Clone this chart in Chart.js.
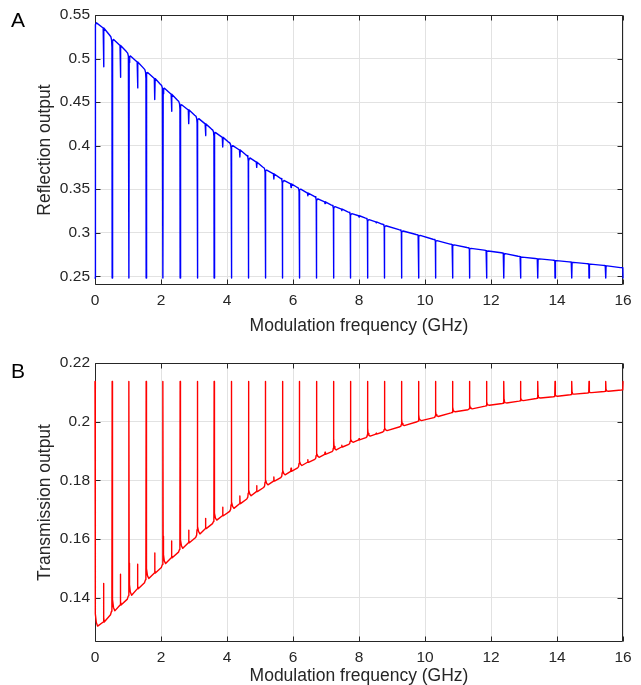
<!DOCTYPE html>
<html><head><meta charset="utf-8">
<script src="https://cdn.jsdelivr.net/npm/chart.js@4.4.1/dist/chart.umd.min.js"></script>
<style>
html,body{margin:0;padding:0;background:#fff;}
#wrap{position:relative;width:641px;height:685px;overflow:hidden;font-family:"Liberation Sans",Arial,sans-serif;}
.cv{position:absolute;left:0;}
.lab{position:absolute;font-size:21px;line-height:21px;color:#000;font-family:"Liberation Sans",Arial,sans-serif;}
</style></head><body>
<div id="wrap">
 <div class="cv" style="top:0;width:641px;height:340px"><canvas id="c1" width="641" height="340"></canvas></div>
 <div class="cv" style="top:340px;width:641px;height:345px"><canvas id="c2" width="641" height="345"></canvas></div>
 <div class="lab" style="left:11px;top:9px">A</div>
 <div class="lab" style="left:11px;top:360px">B</div>
</div>
<script>
// ---------- tick labels ----------
const freqTicks  = [0, 2, 4, 6, 8, 10, 12, 14, 16];
const reflTicks  = [0.25, 0.3, 0.35, 0.4, 0.45, 0.5, 0.55];
const transTicks = [0.14, 0.16, 0.18, 0.2, 0.22];

// ---------- resonance positions (GHz) ----------
const resonanceFreq = [0, 0.52, 1.03, 1.55, 2.06, 2.58, 3.10, 3.61, 4.13, 4.65, 5.16, 5.68, 6.19, 6.71, 7.23, 7.74,
  8.26, 8.77, 9.29, 9.81, 10.32, 10.84, 11.35, 11.87, 12.39, 12.90, 13.42, 13.94, 14.45, 14.97, 15.48, 16.0];
const halfFreq = [0.26, 0.77, 1.29, 1.81, 2.32, 2.84, 3.35, 3.87, 4.39, 4.90, 5.42, 5.94, 6.45, 6.97, 7.48, 8.00, 8.52];

// ---------- reflection (panel A) ----------
const reflFloor = 0.248;
const reflAfter = [0.541, 0.522, 0.503, 0.484, 0.466, 0.447, 0.431, 0.415, 0.400, 0.386, 0.372, 0.360, 0.350, 0.339, 0.330, 0.322,
  0.315, 0.308, 0.302, 0.297, 0.291, 0.286, 0.282, 0.279, 0.276, 0.272, 0.270, 0.268, 0.266, 0.264, 0.262];
const reflBefore = [0.527, 0.508, 0.489, 0.4705, 0.452, 0.435, 0.419, 0.404, 0.3895, 0.3755, 0.363, 0.3525, 0.342, 0.332, 0.324, 0.317,
  0.310, 0.3035, 0.298, 0.2925, 0.287, 0.283, 0.280, 0.277, 0.273, 0.2705, 0.2685, 0.2665, 0.2645, 0.2625, 0.260];
const reflHalfLevel = [0.535, 0.515, 0.496, 0.477, 0.459, 0.441, 0.425, 0.4095, 0.395, 0.381, 0.3675, 0.356, 0.3455, 0.3355, 0.327, 0.3195, 0.3125];
const reflHalfDip   = [0.4905, 0.4785, 0.4663, 0.4529, 0.4394, 0.4253, 0.4115, 0.3985, 0.387, 0.375, 0.3617, 0.352, 0.3425, 0.3335, 0.3255, 0.318, 0.3115];

// ---------- transmission (panel B) ----------
const transPeak = 0.2137;
const transAfter = [0.1304, 0.1356, 0.1409, 0.1466, 0.1517, 0.1569, 0.1618, 0.1665, 0.1705, 0.1748, 0.1785, 0.1819, 0.1851, 0.1879, 0.1904, 0.1930,
  0.1951, 0.1970, 0.1987, 0.2004, 0.2018, 0.2034, 0.2044, 0.2056, 0.2064, 0.2072, 0.2081, 0.2087, 0.2094, 0.2099, 0.2104];
const transBefore = [0.1343, 0.1396, 0.1452, 0.1504, 0.1556, 0.1606, 0.1653, 0.1695, 0.1737, 0.1776, 0.1810, 0.1843, 0.1872, 0.1898, 0.1923, 0.1946,
  0.1965, 0.1983, 0.2000, 0.2014, 0.2030, 0.2041, 0.2053, 0.2062, 0.2070, 0.2079, 0.2085, 0.2092, 0.2098, 0.2103, 0.2108];
const transHalfLevel = [0.1318, 0.1376, 0.1431, 0.1485, 0.1537, 0.1588, 0.1636, 0.1680, 0.1721, 0.1762, 0.1798, 0.1831, 0.1862, 0.1889, 0.1914, 0.1938, 0.1958];
const transHalfTop   = [0.1449, 0.1481, 0.1515, 0.1553, 0.1594, 0.1631, 0.1671, 0.1709, 0.1747, 0.1782, 0.1812, 0.1842, 0.1871, 0.1896, 0.1920, 0.1942, 0.1961];

// ---------- build point tables from the read values ----------
// resonance line shape: fraction of the local depth kept at small offsets from the resonance
function buildRefl() {
  const p = [];
  for (let k = 0; k < reflAfter.length; k++) {
    const s = resonanceFreq[k], e = resonanceFreq[k + 1], a = reflAfter[k], b = reflBefore[k];
    const da = a - reflFloor, db = b - reflFloor;
    p.push({x: s, y: reflFloor});
    p.push({x: s + 0.006, y: a - 0.03 * da});
    p.push({x: s + 0.02, y: a - 0.007 * da});
    p.push({x: s + 0.045, y: a});
    if (k < halfFreq.length) {
      const h = halfFreq[k];
      p.push({x: h - 0.012, y: reflHalfLevel[k]});
      p.push({x: h, y: reflHalfDip[k]});
      p.push({x: h + 0.012, y: reflHalfLevel[k]});
    }
    p.push({x: e - 0.08, y: b});
    p.push({x: e - 0.04, y: b - 0.007 * db});
    p.push({x: e - 0.018, y: b - 0.02 * db});
    p.push({x: e - 0.006, y: b - 0.05 * db});
  }
  p.push({x: resonanceFreq[resonanceFreq.length - 1], y: reflFloor});
  return p;
}
function buildTrans() {
  const p = [];
  for (let k = 0; k < transAfter.length; k++) {
    const s = resonanceFreq[k], e = resonanceFreq[k + 1], a = transAfter[k], b = transBefore[k];
    const da = transPeak - a, db = transPeak - b;
    p.push({x: s, y: transPeak});
    p.push({x: s + 0.005, y: a + 0.15 * da});
    p.push({x: s + 0.015, y: a + 0.05 * da});
    p.push({x: s + 0.04, y: a + 0.015 * da});
    p.push({x: s + 0.08, y: a});
    if (k < halfFreq.length) {
      const h = halfFreq[k];
      p.push({x: h - 0.01, y: transHalfLevel[k]});
      p.push({x: h, y: transHalfTop[k]});
      p.push({x: h + 0.006, y: transHalfLevel[k] + 0.12 * (transHalfTop[k] - transHalfLevel[k])});
      p.push({x: h + 0.02, y: transHalfLevel[k]});
    }
    p.push({x: e - 0.05, y: b});
    p.push({x: e - 0.02, y: b + 0.015 * db});
    p.push({x: e - 0.008, y: b + 0.05 * db});
  }
  p.push({x: resonanceFreq[resonanceFreq.length - 1], y: transPeak});
  return p;
}

// ---------- styling helpers ----------
const AX = '#262626';
const FONT = '"Liberation Sans", Arial, sans-serif';
const fmt = v => String(+(+v).toFixed(2));

const boxPlugin = {
  id: 'box',
  beforeDatasetsDraw(chart) {
    const {ctx, chartArea: ca, scales: {x, y}} = chart;
    const L = Math.round(ca.left) + 0.5, R = Math.round(ca.right) - 0.5;
    const T = Math.round(ca.top) + 0.5, B = Math.round(ca.bottom) - 0.5;
    ctx.save();
    ctx.strokeStyle = AX; ctx.lineWidth = 1;
    ctx.beginPath();
    ctx.rect(L, T, R - L, B - T);
    const tl = 5;
    x.ticks.forEach(t => {
      const px = Math.round(x.getPixelForValue(t.value)) + 0.5;
      ctx.moveTo(px, B); ctx.lineTo(px, B - tl);
      ctx.moveTo(px, T); ctx.lineTo(px, T + tl);
    });
    y.ticks.forEach(t => {
      const py = Math.round(y.getPixelForValue(t.value)) + 0.5;
      ctx.moveTo(L, py); ctx.lineTo(L + tl, py);
      ctx.moveTo(R, py); ctx.lineTo(R - tl, py);
    });
    ctx.stroke();
    ctx.restore();
  }
};

function makeChart(id, data, color, yMin, yMax, yTickList, yTitle, pad, xHeight, xTitlePad) {
  return new Chart(document.getElementById(id), {
    type: 'line',
    data: {datasets: [{data, borderColor: color, borderWidth: 1.4, borderJoinStyle: 'round', borderCapStyle: 'round',
      pointRadius: 0, tension: 0, fill: false, clip: 3}]},
    options: {
      responsive: false, animation: false, parsing: false, normalized: true,
      layout: {padding: pad},
      plugins: {legend: {display: false}, tooltip: {enabled: false}},
      scales: {
        x: {
          type: 'linear', min: 0, max: 16,
          afterBuildTicks: s => { s.ticks = freqTicks.map(v => ({value: v})); },
          afterFit: s => { s.height = xHeight; },
          grid: {color: '#e2e2e2', lineWidth: 1, drawTicks: false},
          border: {display: false},
          ticks: {padding: 6, color: AX, font: {family: FONT, size: 15.5}, callback: v => fmt(v), maxRotation: 0},
          title: {display: true, text: 'Modulation frequency (GHz)', color: AX, font: {family: FONT, size: 17.5, lineHeight: 1}, padding: {top: 0, bottom: xTitlePad}}
        },
        y: {
          type: 'linear', min: yMin, max: yMax,
          afterBuildTicks: s => { s.ticks = yTickList.map(v => ({value: v})); },
          afterFit: s => { s.width = 95; },
          grid: {color: '#e2e2e2', lineWidth: 1, drawTicks: false},
          border: {display: false},
          ticks: {padding: 5, color: AX, font: {family: FONT, size: 15.5}, callback: v => fmt(v)},
          title: {display: true, text: yTitle, color: AX, font: {family: FONT, size: 17.5}, padding: {top: 34.5, bottom: 0}}
        }
      }
    },
    plugins: [boxPlugin]
  });
}

makeChart('c1', buildRefl(), '#0000ff', 0.24, 0.55, reflTicks, 'Reflection output',
  {left: 0, right: 18, top: 15, bottom: 0}, 55, 5);
makeChart('c2', buildTrans(), '#ff0000', 0.125, 0.22, transTicks, 'Transmission output',
  {left: 0, right: 18, top: 23, bottom: 0}, 43, 0);
</script>
</body></html>
